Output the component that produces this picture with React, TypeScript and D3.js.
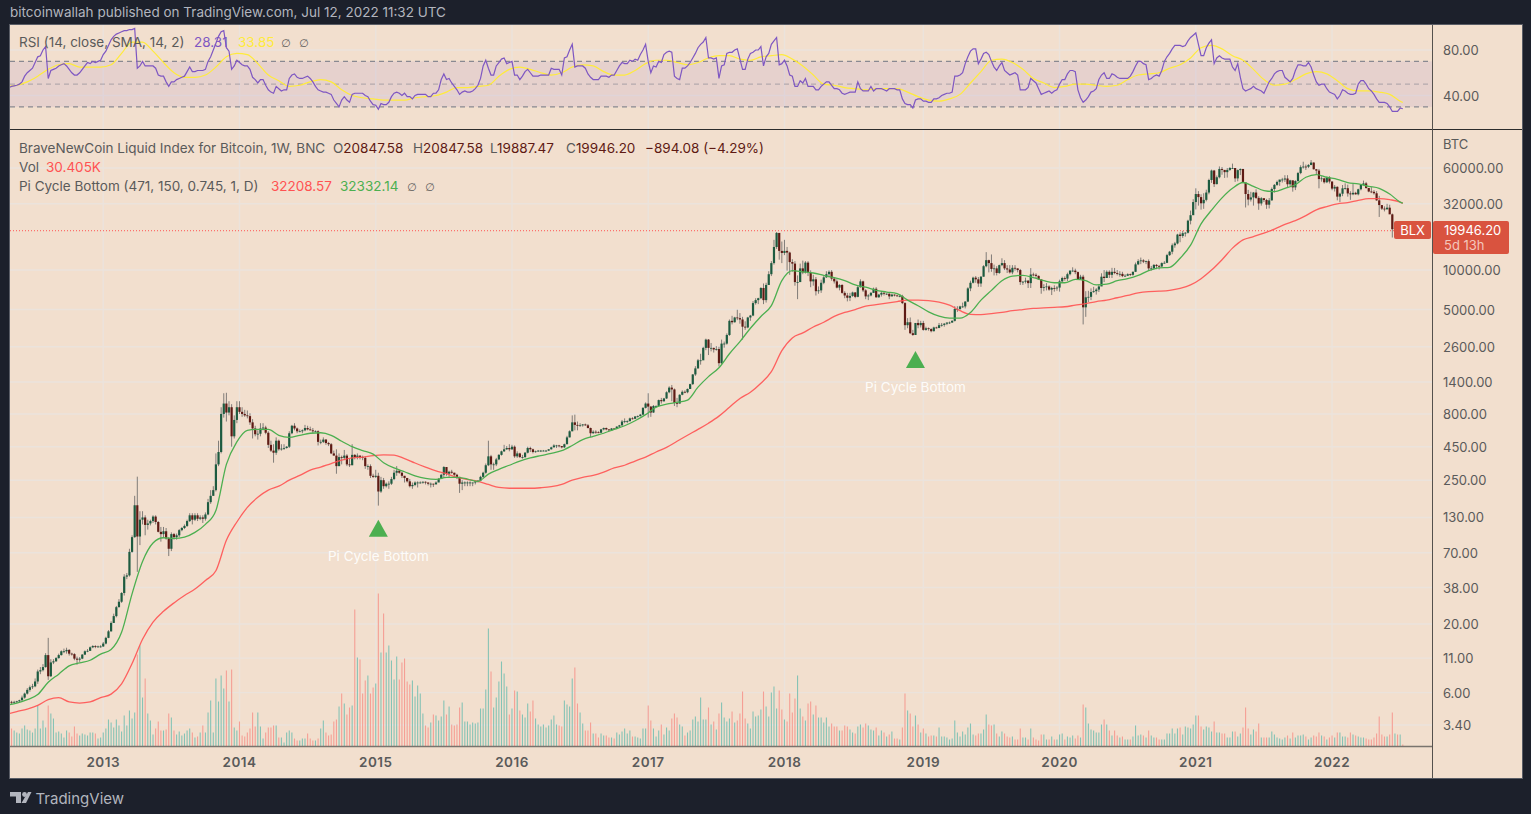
import React from 'react';
import * as d3 from 'd3';

// weekly candles, first bar 2012-04-23, last bar 2022-07-11
const closes2012 = [5.05,5.1,5.05,5.1,5.15,5.25,5.5,5.9,6.3,6.6,6.7,7.3,8.7,8.9,9.4,11.6,8,10.2,10.4,11,11.6,12.4,12.4,12.7,11.9,11.8,10.9,10.7,10.9,11.7,12.4,12.5,13.3,13.6,13.4,13.5,13.5];
const closes2013 = [14.2,15.7,17.6,20.4,23,26.9,29.6,34.5,46,47,71,92,161,93,125,130,114,117,122,132,120,101,97,102,90,75,97,92,95,104,108,112,122,135,125,135,127,130,127,137,170,190,210,330,410,800,960,820,900,540,720,900];
const closes2014 = [830,800,780,770,690,620,560,565,620,630,575,465,420,405,500,430,435,440,450,570,650,620,590,590,600,625,610,600,590,590,490,490,510,480,470,400,385,320,375,370,385,330,325,390,375,385,375,370,320,320,270,265];
const closes2015 = [270,205,250,225,235,235,255,285,295,285,270,260,245,225,230,240,240,240,243,240,235,235,232,240,255,275,315,280,290,285,275,265,235,240,240,240,240,240,245,248,265,285,325,380,330,330,360,390,415,430,440,430];
const closes2016 = [450,380,400,375,375,405,440,430,410,415,420,420,420,420,430,445,460,460,455,445,470,530,590,690,660,650,655,665,655,625,570,585,580,575,610,625,610,600,620,615,640,655,700,705,705,740,735,765,770,790,890,960];
const closes2017 = [910,820,920,920,1020,1000,1050,1170,1270,1230,970,960,1120,1180,1170,1240,1350,1600,1780,2050,2050,2550,2950,2550,2550,2480,2500,1950,2750,2750,3200,4100,4000,4350,4300,4200,3700,3650,4350,4500,5600,5900,6100,7300,5900,7700,9300,11300,15000,19200,14000,13500];
const closes2018 = [14000,13600,11500,11200,8100,8100,10300,9600,11400,9500,8200,8500,6900,7000,8000,8800,9300,9700,8600,8200,7350,7700,6700,6400,6150,6350,6750,6250,7400,8200,7000,6300,6400,6700,7200,6200,6500,6700,6600,6600,6300,6500,6400,6350,6350,5600,3800,4000,3300,3200,3950,3800,3950];
const closes2019 = [3500,3600,3550,3420,3650,3620,3800,3820,3900,3980,3980,4100,5050,5050,5280,5280,5750,7250,8000,8750,8500,7900,8900,10700,11900,11300,10200,10300,9500,10900,11300,10300,10100,9600,10400,10300,10000,8100,8150,8300,7950,9250,9200,9030,8500,7300,7400,7500,7100,7300,7250,7350];
const closes2020 = [8200,8700,8600,9300,9900,9900,9650,8550,8900,5200,6200,6250,6800,6900,7100,7500,8900,8700,9700,9200,9700,9500,9350,9350,9000,9050,9300,9200,9700,11050,11700,11850,11600,11700,10300,10300,10950,10750,10650,11300,11360,13000,13800,15450,15950,18650,18200,19100,19250,23800,26200,33000];
const closes2021 = [38000,36000,32300,34300,39000,48600,57400,45200,51000,59000,58000,55800,58000,60000,60000,50000,57800,59000,46500,38000,34500,35800,39000,35500,32200,35300,34200,31500,34000,41500,44600,47000,49000,49000,49900,45100,48300,42700,47700,54900,60900,61500,61300,63300,66000,58700,57300,49400,50000,46700,50800,47300];
const closes2022 = [41800,43100,36300,38200,42000,42100,38400,37800,38800,37800,41300,44500,45800,42200,39700,39500,38500,34000,31300,29400,29000,29900,26600,20500,21000,19300,20847.58,19946.2];

const highs2012 = [5.2,5.2,5.2,5.2,5.2,5.3,5.7,6,6.5,6.8,7,7.7,9,9.4,9.9,12,15.7,10.8,10.8,11.2,11.9,12.6,13,13.2,12.9,12.1,12,11.3,11.2,11.8,12.6,12.9,13.5,13.8,13.8,13.7,13.8];
const highs2013 = [14.6,16,18,21,24,27.5,31,35,48,49,75,95,190,266,145,145,135,125,125,135,135,122,110,110,108,92,100,99,98,106,110,115,125,140,140,140,140,135,135,142,180,210,225,400,500,900,1150,1160,1000,950,780,1000];
const highs2014 = [1000,900,860,850,810,730,650,600,680,680,650,590,500,470,530,510,470,470,455,590,660,680,630,610,610,660,650,640,625,600,600,510,530,515,490,480,420,430,400,385,425,395,365,470,395,400,385,385,380,330,330,280];
const highs2015 = [300,285,265,260,240,245,265,300,320,300,290,270,260,255,240,245,245,245,245,245,240,240,235,245,260,280,320,315,295,300,285,280,265,250,245,245,245,240,245,250,270,290,335,500,390,340,370,395,420,465,455,470];
const highs2016 = [465,460,415,405,390,410,450,450,435,420,425,425,425,425,432,450,470,465,465,455,475,545,600,780,790,700,680,670,675,670,630,600,600,590,615,630,630,610,625,620,645,660,720,740,715,750,755,770,780,800,900,980];
const highs2017 = [1150,920,935,930,1030,1060,1060,1190,1300,1330,1250,1060,1130,1210,1210,1250,1360,1610,1850,2100,2300,2600,3000,2980,2780,2560,2630,2600,2950,2850,3290,4200,4480,4400,4980,4700,4400,4070,4400,4550,5800,6100,6150,7400,7900,8000,9800,11700,17000,19500,19000,16500];
const highs2018 = [17000,15000,13800,12100,11700,9100,11200,11800,11700,11700,9950,9200,8850,7500,8450,9000,9800,9950,9990,8850,8500,7800,7800,6900,6700,6700,6850,6800,7550,8500,8300,7150,6550,6800,7350,7400,6580,6800,6800,6650,6650,6600,6520,6480,6550,6480,5700,4300,4350,3500,3950,4200,4100];
const highs2019 = [4100,3700,3650,3600,3700,3700,3950,3950,3950,3980,4050,4150,5300,5300,5350,5650,5800,7400,8300,8900,9000,8850,9000,10900,13700,12000,13150,11000,10700,11000,12300,11900,10900,10900,10900,10900,10300,10200,8250,8750,8400,10350,9550,9450,9100,8400,7800,7950,7650,7450,7650,7550];
const highs2020 = [8450,8900,8950,9550,9950,10500,10250,9750,9200,9200,6900,6950,7250,7450,7280,7800,9450,10000,9950,9950,10400,10380,10000,9800,9700,9300,9450,9400,9750,11400,12100,12450,12100,11800,12050,10750,11100,11100,10950,11450,11700,13300,14000,15950,16400,18900,19400,19900,19500,24200,28400,34700];
const highs2021 = [42000,40000,37800,38500,41000,49700,58300,58000,52600,61700,61000,58000,60000,61000,64800,57500,58500,59500,59000,45500,40900,39500,39400,41300,36600,36000,35200,34900,35400,42600,45300,48100,47100,50500,52900,52900,48800,48200,48400,56000,62900,67000,63700,64200,69000,66300,59000,59000,51900,50500,51500,52000];
const highs2022 = [47500,44500,43500,38900,44500,45800,44800,39900,45300,39500,41700,45000,48100,47000,42300,42900,40700,40000,36800,31000,30600,32000,31500,27000,21800,22000,21500,20847.58];

const lows2012 = [4.8,4.9,4.9,4.95,5,5.05,5.2,5.4,5.8,6.1,6.4,6.6,7,8.3,8.7,9.3,7.5,7.9,9.9,10.3,10.9,11.5,12,11.9,11.5,11.5,10.6,9.8,10.3,10.8,11.6,12.2,12.5,13.1,13.1,13.2,13.2];
const lows2013 = [13.4,14,15.6,17.5,20.4,22.5,26.8,29,33,44,46,70,91,50,80,115,95,105,113,118,115,100,85,92,88,66,72,88,88,92,102,106,110,120,115,122,122,124,118,123,135,165,190,205,320,400,750,700,780,450,520,680];
const lows2014 = [800,760,760,740,660,520,540,510,540,600,560,440,410,340,390,420,420,425,435,440,560,600,570,580,570,590,600,600,570,580,460,470,480,465,455,395,385,280,320,330,355,320,315,325,360,360,360,355,305,300,260,260];
const lows2015 = [260,160,200,215,220,215,230,250,270,280,260,240,240,220,215,225,220,235,235,232,228,220,222,235,245,260,260,270,265,280,260,255,200,210,225,225,225,225,232,240,245,260,280,320,300,300,320,355,385,410,425,415];
const lows2016 = [425,370,370,370,365,370,400,410,400,405,410,410,415,412,418,428,445,440,445,437,440,470,530,590,600,600,640,640,650,620,530,565,565,570,570,600,600,590,595,610,612,630,650,680,680,700,725,730,750,765,785,880];
const lows2017 = [750,760,815,890,910,960,990,1040,1150,1000,920,900,960,1110,1150,1150,1240,1330,1560,1770,1900,2100,2450,2250,2400,2350,2430,1840,1900,2560,2700,3150,3850,3980,4150,3900,2950,3500,3600,4100,4450,5450,5500,6000,5500,5650,7700,9000,11000,14500,12000,11300];
const lows2018 = [13000,9900,9200,9700,7600,6000,8100,9300,9400,9000,7400,7600,6400,6600,6700,7800,8700,8800,8300,7900,7250,7000,6600,6100,5770,5800,6250,6100,6200,7350,6800,6000,5900,6300,6700,6150,6150,6280,6400,6450,6000,6300,6300,6280,6200,5500,3500,3600,3250,3150,3200,3600,3650];
const lows2019 = [3450,3450,3450,3350,3400,3580,3600,3700,3700,3800,3880,3950,4050,4800,4950,5150,5100,5700,6900,7900,8000,7450,7450,8900,10500,9600,9700,9100,9100,9350,10700,10000,9500,9400,9300,9900,9600,7700,7700,7900,7300,7300,8950,8700,8400,6600,6900,7000,6950,6450,6850,6950];
const lows2020 = [6850,8050,8300,8250,9100,9700,9300,8500,8400,3850,4400,5700,5900,6700,6500,6800,7700,8100,8800,8700,8700,9300,9100,8900,8830,8900,9000,9000,9050,9650,10900,11100,11300,11100,10000,9900,10200,10150,10100,10500,11200,11300,12800,13200,14800,15700,16300,17600,18000,19000,22300,27000];
const lows2021 = [29000,31000,28900,29300,33400,37800,46200,43000,45000,50000,53300,50400,50700,57000,59000,47000,47500,53000,46000,30000,31100,33300,31000,34800,28800,31000,33000,29300,29500,33800,39000,43800,43900,46500,47000,42800,43400,39600,40700,47200,53800,59400,58000,59900,63000,58400,53300,42000,47200,45600,46000,45700];
const lows2022 = [40600,39700,34000,33000,36600,41000,36300,34300,37200,37600,37100,40500,44300,41800,39200,38600,37600,33700,25400,28700,28000,29300,28800,17700,19600,18700,19000,19887.47];

const volume2012 = [18,16,18,16,14,13,18,21,17,16,14,18,41,18,26,19,41,33,28,14,15,13,9,16,14,10,20,13,11,13,12,11,14,14,13,8,9];
const volume2013 = [14,18,27,24,19,27,21,15,31,21,36,28,34,92,101,49,68,33,26,12,18,25,16,16,17,33,29,16,12,15,11,13,16,18,14,9,10,14,21,14,34,46,14,68,45,71,58,76,45,77,19,16];
const volume2014 = [25,11,10,14,18,34,20,34,20,8,14,19,19,21,21,9,9,4,14,16,14,8,6,6,8,8,13,8,6,6,8,18,26,14,11,12,25,27,40,53,43,32,39,41,137,89,87,53,66,71,53,59];
const volume2015 = [63,153,94,133,94,101,86,67,90,67,84,88,65,62,66,50,61,53,33,21,19,24,32,31,26,30,46,32,40,22,21,22,39,44,25,25,22,24,23,24,38,38,57,118,75,39,49,65,85,73,60,32];
const volume2016 = [38,56,55,36,32,29,43,35,46,28,22,20,22,19,21,27,31,22,21,20,46,42,40,68,79,43,34,23,16,16,24,13,13,9,13,11,11,9,9,8,14,12,15,18,13,16,10,10,9,8,18,18];
const volume2017 = [41,26,18,10,16,22,12,19,16,28,33,29,22,20,11,14,16,27,30,25,49,27,27,39,22,25,17,33,44,29,25,28,35,24,26,33,55,28,23,18,35,30,31,37,55,40,30,54,60,38,56,37];
const volume2018 = [27,25,53,34,48,71,38,30,26,43,45,32,41,29,29,24,29,20,23,20,20,16,16,21,20,17,14,13,20,22,19,23,21,17,16,19,11,16,14,10,12,15,8,8,7,19,53,36,33,20,31,22,14];
const volume2019 = [18,13,10,11,11,10,19,10,10,9,7,8,26,14,10,15,12,19,23,12,11,13,13,17,32,22,21,22,13,10,15,13,10,9,10,7,7,18,9,9,7,18,9,7,6,12,12,7,7,10,7,7];
const volume2020 = [12,13,7,10,9,11,8,11,9,42,39,23,17,16,14,14,22,27,22,16,11,16,11,9,10,7,7,7,10,21,11,12,11,9,16,11,9,9,7,7,7,13,13,18,13,18,19,12,20,19,18,22];
const volume2021 = [31,31,20,17,20,19,15,25,14,14,13,13,9,9,15,15,10,13,19,39,18,12,17,15,23,9,9,9,9,15,12,9,8,7,9,11,8,14,9,11,11,12,10,7,9,11,10,14,11,10,7,9];
const volume2022 = [11,9,14,14,10,10,9,14,12,11,10,9,9,8,7,7,9,13,30,12,10,10,12,34,13,12,12,2];

// RSI by week
const rsi2012 = [46,47,48,48.5,49,50,52,57,60,62,64,69,74,75,80,83,55,62,63,64,66,67,68,66,63,60,58,58,60,63,66,69,68,70,69,70,71];
const rsi2013 = [76,79,84,89,92,94,95,96,97,97,98,98,99,64,66,70,66,66,66,66,64,58,57,57,52,48,52,52,54,55,56,57,61,65,61,61,62,62,62,63,70,74,80,86,92,96,97,82,79,63,66,71];
const rsi2014 = [69,67,66,66,63,56,54,51,54,54,49,45,43,42,48,46,44,45,45,55,58,59,56,55,55,56,57,55,52,48,45,44,43,43,42,41,36,33,30,36,39,36,34,41,42,42,42,42,40,39,35,32];
const rsi2015 = [31.5,28,33,32,32,34,39,42,43,42,40,42,39,39,37,40,41,41,41,41,39,39,42,42,45,54,59,54,55,51,48,45,41,43,44,43,43,44,46,49,55,66,71,64,58,58,66,69,72,73,68,69];
const rsi2016 = [70,58,58,54,57,61,63,60,57,57,57,58,58,58,58,64,63,63,63,58,73,74,80,85,65,66,66,66,64,59,56,54,54,54,57,57,57,56,58,58,62,66,69,68,68,71,70,72,71,76,80,85];
const rsi2017 = [70,60,66,65,70,69,76,78,79,78,57,55,54,64,64,66,69,73,77,82,85,87,91,73,73,72,73,55,66,67,77,78,78,80,81,72,63,63,72,77,78,80,80,83,66,74,77,85,88,91,67,68];
const rsi2018 = [71,66,58,57,48,48,53,51,55,48,48,48,45,45,48,50,52,52,49,46,46,45,42,41,42,43,43,43,52,46,44,44,44,48,44,46,46,46,45,44,46,46,46,45,45,37,33,32,32,29,36,37,37];
const rsi2019 = [35,35,34,34,37,37,38,40,41,42,42,43,57,57,58,60,68,74,79,81,81,68,72,77,78,76,70,65,62,66,69,62,60,58,59,60,58,45,45,45,47,55,53,51,46,41,42,43,44,42,44,45];
const rsi2020 = [50,54,54,59,62,62,61,45,38,34,36,39,43,44,46,54,58,60,55,55,59,58,56,55,55,55,55,57,61,66,70,70,68,67,54,55,57,58,57,62,70,74,77,81,84,84,84,83,84,88,91,93];
const rsi2021 = [95,85,75,75,82,86,89,68,73,75,73,72,72,72,65,62,68,56,46,44,45,46,48,46,45,44,42,47,52,55,59,61,62,62,56,54,52,55,62,67,67,66,66,69,65,58,52,49,50,50,46,43];
const rsi2022 = [42,41,37,40,45,44,42,41,41,42,50,53,53,50,46,44,41,37,34,34,34,33,30,26,26,26,29,28.31];

// smooth lines, one reading every 4 weeks plus the last week
const rsiMa = [48,49,52,57,63,67,68,65,65,65,67,77,87,87,79,69,60,56,56,58,65,74,77,76,68,58,53,48,49,52,54,52,45,40,38,37,36,36,36,38,39,40,43,47,47,48,49,57,63,65,63,60,58,60,65,67,66,61,58,58,62,68,71,71,69,67,69,73,75,75,72,71,74,75,76,72,66,58,50,49,47,46,45,46,46,46,43,39,36,35,37,41,51,61,71,72,69,63,55,51,47,48,50,50,49,48,49,54,58,59,60,64,67,73,82,84,81,75,71,63,54,49,50,54,59,61,59,53,46,44,44,43,41,35,33.85];
const piGreen = [4.82,5,5.3,5.8,7.2,8.3,9.6,10.1,10.6,11.8,12.8,17.3,34,60,83,91,90,92,100,115,147,330,490,600,610,610,550,530,550,570,575,550,495,450,420,395,340,310,290,270,258,254,263,263,255,245,278,302,325,350,370,385,400,420,460,510,540,570,610,650,710,790,900,950,980,1020,1280,1540,1800,2300,2850,3600,4430,5350,8300,9900,9700,9500,9100,8750,8300,7700,7400,7000,6800,6600,5900,5350,4800,4450,4300,4300,4750,5900,7000,8300,9000,9100,8750,8300,8000,8000,8500,8300,7700,7800,8300,8600,9100,9900,10400,10500,12300,15500,22500,28600,35500,42000,46500,43500,40400,39700,42000,44700,51000,53500,51000,49200,46500,45400,43500,42000,38000,33000,32332.14];
const piRed = [4.1,4.3,4.5,4.8,5.3,5.5,5.1,5,5.1,5.5,5.85,7,10,15.3,20.7,25,29,33,37,43,51,87,120,155,185,210,225,250,272,298,315,335,355,370,375,385,390,388,365,338,315,295,280,263,253,245,232,220,217,217,217,219,223,232,250,263,272,288,310,325,350,375,410,445,495,550,610,680,770,900,1050,1170,1370,1680,2430,3040,3320,3680,4000,4430,4750,5000,5300,5450,5600,5750,5900,5900,5850,5700,5400,4900,4600,4580,4650,4750,4900,5000,5100,5150,5200,5250,5400,5550,5750,5900,6150,6400,6700,6850,6900,7000,7250,7700,8600,10000,12000,14700,17000,18000,19100,20500,22300,23800,26000,28800,30500,32000,32700,34000,35000,35000,34400,33000,32208.57];

const priceTicks = [60000,32000,10000,5000,2600,1400,800,450,250,130,70,38,20,11,6,3.4];
const rsiTicks = [80,40];
const rsiBands = [70,50,30];
const lastPrice = 19946.2;
const signalDates = [new Date(Date.UTC(2015,0,12)), new Date(Date.UTC(2018,11,17))];
const signalPrices = [125, 2420];

const closes = [closes2012,closes2013,closes2014,closes2015,closes2016,closes2017,closes2018,closes2019,closes2020,closes2021,closes2022].flat();
const highs = [highs2012,highs2013,highs2014,highs2015,highs2016,highs2017,highs2018,highs2019,highs2020,highs2021,highs2022].flat();
const lows = [lows2012,lows2013,lows2014,lows2015,lows2016,lows2017,lows2018,lows2019,lows2020,lows2021,lows2022].flat();
const volumes = [volume2012,volume2013,volume2014,volume2015,volume2016,volume2017,volume2018,volume2019,volume2020,volume2021,volume2022].flat();
const rsi = [rsi2012,rsi2013,rsi2014,rsi2015,rsi2016,rsi2017,rsi2018,rsi2019,rsi2020,rsi2021,rsi2022].flat();

const WEEK = 7 * 864e5;
const firstBar = Date.UTC(2012, 3, 23);
const dates = closes.map((_, i) => new Date(firstBar + i * WEEK));
const lastIndex = closes.length - 1;
// the 4-weekly readings sit on every 4th bar, the tail on the last bar
const sparseDate = (k: number) => dates[Math.min(k * 4, lastIndex)];

const firstOfYear = dates.filter((d, i) => i > 0 && d.getUTCFullYear() !== dates[i - 1].getUTCFullYear());

const font = 'Inter, "Noto Sans", sans-serif';
const BG = '#f2dfce';
const DARK = '#1c202b';
const GRID = '#ebe3dc';
const TEXT = '#5a5a5a';
const UP = '#1d5b40';
const DOWN = '#5e1a14';
const WICK = '#807c78';
const RED = '#ff5252';
const GREEN = '#4caf50';

const PLOT = { left: 10, right: 1432, top: 25, rsiBottom: 129, mainTop: 130, volBase: 746.5, bottom: 778, frameRight: 1522 };

export default function App() {
  const x = d3.scaleUtc().domain([dates[0], dates[lastIndex]]).range([6.3, 1402.8]);
  const y = d3.scaleLog().domain([3.4, 60000]).range([725, 168]);
  const yRsi = d3.scaleLinear().domain([40, 80]).range([95.5, 50]);
  const yVol = d3.scaleLinear().domain([0, 160]).range([PLOT.volBase, PLOT.volBase - 160]);

  const sparseLine = d3.line<number>()
    .x((_, k) => x(sparseDate(k)))
    .y((d) => y(d))
    .curve(d3.curveMonotoneX);
  const rsiLine = d3.line<number>()
    .x((_, i) => x(dates[i]))
    .y((d) => yRsi(d));
  const rsiMaLine = d3.line<number>()
    .x((_, k) => x(sparseDate(k)))
    .y((d) => yRsi(d))
    .curve(d3.curveMonotoneX);

  const yearLines = firstOfYear.map((d) => x(d));

  return (
    <svg width={1531} height={814} style={{ position: 'absolute', left: 0, top: 0, display: 'block' }} fontFamily={font}>
      <defs>
        <clipPath id="rsi-clip"><rect x={PLOT.left} y={PLOT.top} width={PLOT.right - PLOT.left} height={PLOT.rsiBottom - PLOT.top} /></clipPath>
        <clipPath id="main-clip"><rect x={PLOT.left} y={PLOT.mainTop} width={PLOT.right - PLOT.left} height={PLOT.volBase - PLOT.mainTop} /></clipPath>
      </defs>
      <rect width={1531} height={814} fill={DARK} />
      <text x={10} y={17} fontSize={13.5} fill="#b2b5be">bitcoinwallah published on TradingView.com, Jul 12, 2022 11:32 UTC</text>
      <rect x={PLOT.left} y={PLOT.top} width={PLOT.frameRight - PLOT.left} height={PLOT.bottom - PLOT.top} fill={BG} />

      {/* grid */}
      {yearLines.map((px, i) => (
        <g key={i} stroke={GRID} strokeWidth={1.4}>
          <line x1={px} x2={px} y1={PLOT.top} y2={PLOT.rsiBottom} />
          <line x1={px} x2={px} y1={PLOT.mainTop} y2={PLOT.volBase} />
        </g>
      ))}
      {rsiTicks.map((t) => (
        <line key={t} x1={PLOT.left} x2={PLOT.right} y1={yRsi(t)} y2={yRsi(t)} stroke={GRID} strokeWidth={1.4} />
      ))}
      {priceTicks.map((t) => (
        <line key={t} x1={PLOT.left} x2={PLOT.right} y1={y(t)} y2={y(t)} stroke={GRID} strokeWidth={1.4} />
      ))}

      {/* rsi pane */}
      <rect x={PLOT.left} y={yRsi(70)} width={PLOT.right - PLOT.left} height={yRsi(30) - yRsi(70)} fill="#7e57c2" fillOpacity={0.1} />
      {rsiBands.map((t) => (
        <line key={t} x1={PLOT.left} x2={PLOT.right} y1={yRsi(t)} y2={yRsi(t)} stroke="#787b86" strokeOpacity={t === 50 ? 0.45 : 0.85} strokeWidth={1.3} strokeDasharray="5 4" />
      ))}
      <g clipPath="url(#rsi-clip)" fill="none">
        <path d={rsiMaLine(rsiMa) ?? ''} stroke="#ffeb3b" strokeWidth={1.2} />
        <path d={rsiLine(rsi) ?? ''} stroke="#7e57c2" strokeWidth={1.2} />
      </g>
      <text x={19} y={47} fontSize={13.5} fill={TEXT}>RSI (14, close, SMA, 14, 2)</text>
      <text x={194} y={47} fontSize={13.5} fill="#7e57c2">28.31</text>
      <text x={238} y={47} fontSize={13.5} fill="#ffeb3b">33.85</text>
      <text x={281} y={47} fontSize={11} fill={TEXT} fontFamily="DejaVu Sans">∅</text>
      <text x={299} y={47} fontSize={11} fill={TEXT} fontFamily="DejaVu Sans">∅</text>

      {/* main pane */}
      <g clipPath="url(#main-clip)">
        {volumes.map((v, i) => {
          const up = closes[i] >= (i ? closes[i - 1] : closes[i]);
          return (
            <line key={i} x1={x(dates[i])} x2={x(dates[i])} y1={yVol(0)} y2={yVol(v)}
              stroke={up ? '#86c3b5' : '#f59f95'} strokeWidth={1.1} />
          );
        })}
        <line x1={PLOT.left} x2={PLOT.right} y1={y(lastPrice)} y2={y(lastPrice)} stroke={RED} strokeWidth={1} strokeDasharray="1 2" />
        {closes.map((c, i) => {
          const open = i ? closes[i - 1] : c;
          const px = x(dates[i]);
          const top = y(Math.max(open, c));
          const bot = y(Math.min(open, c));
          return (
            <g key={i}>
              <line x1={px} x2={px} y1={y(highs[i])} y2={y(lows[i])} stroke={WICK} strokeWidth={1} />
              <rect x={px - 1.1} width={2.2} y={top} height={Math.max(bot - top, 0.8)} fill={c >= open ? UP : DOWN} />
            </g>
          );
        })}
        <path d={sparseLine(piRed) ?? ''} fill="none" stroke={RED} strokeWidth={1.3} strokeOpacity={0.9} />
        <path d={sparseLine(piGreen) ?? ''} fill="none" stroke={GREEN} strokeWidth={1.3} />
      </g>

      {/* pi cycle signals */}
      {signalDates.map((d, i) => {
        const px = x(d);
        const tip = y(signalPrices[i]);
        return (
          <g key={i}>
            <path d={`M${px},${tip} L${px + 9.5},${tip + 17} L${px - 9.5},${tip + 17} Z`} fill={GREEN} />
            <text x={px} y={tip + 41} fontSize={13.5} fill="#ffffff" fillOpacity={0.9} textAnchor="middle">Pi Cycle Bottom</text>
          </g>
        );
      })}

      {/* legend */}
      <g fontSize={13.5} fill={TEXT}>
        <text x={19} y={153}>BraveNewCoin Liquid Index for Bitcoin, 1W, BNC</text>
        <text x={333} y={153}>O<tspan fill={DOWN}>20847.58</tspan></text>
        <text x={413} y={153}>H<tspan fill={DOWN}>20847.58</tspan></text>
        <text x={490} y={153}>L<tspan fill={DOWN}>19887.47</tspan></text>
        <text x={566} y={153}>C<tspan fill={DOWN}>19946.20</tspan></text>
        <text x={645} y={153} fill={DOWN}>−894.08 (−4.29%)</text>
        <text x={19} y={172}>Vol</text>
        <text x={46} y={172} fill={RED}>30.405K</text>
        <text x={19} y={191}>Pi Cycle Bottom (471, 150, 0.745, 1, D)</text>
        <text x={271} y={191} fill={RED}>32208.57</text>
        <text x={340} y={191} fill={GREEN}>32332.14</text>
        <text x={407} y={191} fontSize={11} fontFamily="DejaVu Sans">∅</text>
        <text x={425} y={191} fontSize={11} fontFamily="DejaVu Sans">∅</text>
      </g>

      {/* pane dividers */}
      <line x1={PLOT.left} x2={PLOT.frameRight} y1={129.5} y2={129.5} stroke="#2c2c2c" />
      <line x1={1432.5} x2={1432.5} y1={PLOT.top} y2={PLOT.bottom} stroke="#55514d" />
      <line x1={PLOT.left} x2={1432} y1={PLOT.volBase} y2={PLOT.volBase} stroke="#7a746e" strokeWidth={1.4} />
      <rect x={9.5} y={24.5} width={1513} height={754} fill="none" stroke="#5a5d66" />

      {/* right axis */}
      <g fontSize={13} fill={TEXT}>
        <text x={1443} y={149}>BTC</text>
        {priceTicks.map((t) => (
          <text key={t} x={1443} y={y(t) + 5}>{t.toFixed(2)}</text>
        ))}
        {rsiTicks.map((t) => (
          <text key={t} x={1443} y={yRsi(t) + 5}>{t.toFixed(2)}</text>
        ))}
      </g>

      {/* last price tags */}
      <rect x={1394} y={221} width={37} height={18} rx={2} fill="#d9533f" />
      <text x={1412.5} y={235} fontSize={13} fill="#fff" textAnchor="middle">BLX</text>
      <rect x={1433} y={221} width={76} height={33} rx={2} fill="#d9533f" />
      <text x={1444} y={235} fontSize={13} fill="#fff">19946.20</text>
      <text x={1444} y={250} fontSize={13} fill="#f4c6bb">5d 13h</text>

      {/* time axis */}
      {firstOfYear.map((d) => (
        <text key={d.getUTCFullYear()} x={x(d)} y={767} fontSize={13.5} fontWeight={600} fill={TEXT} textAnchor="middle" letterSpacing={0.5}>
          {d.getUTCFullYear()}
        </text>
      ))}

      {/* logo */}
      <g fill="#b2b5be">
        <path d="M10,792 h11 v11 h-5 v-6.5 h-6 Z" />
        <circle cx={24.5} cy={794.5} r={2.4} />
        <path d="M28,792 h3.5 l-5.5,11 h-4.5 Z" />
      </g>
      <text x={35.5} y={804} fontSize={15} fill="#b2b5be">TradingView</text>
    </svg>
  );
}
